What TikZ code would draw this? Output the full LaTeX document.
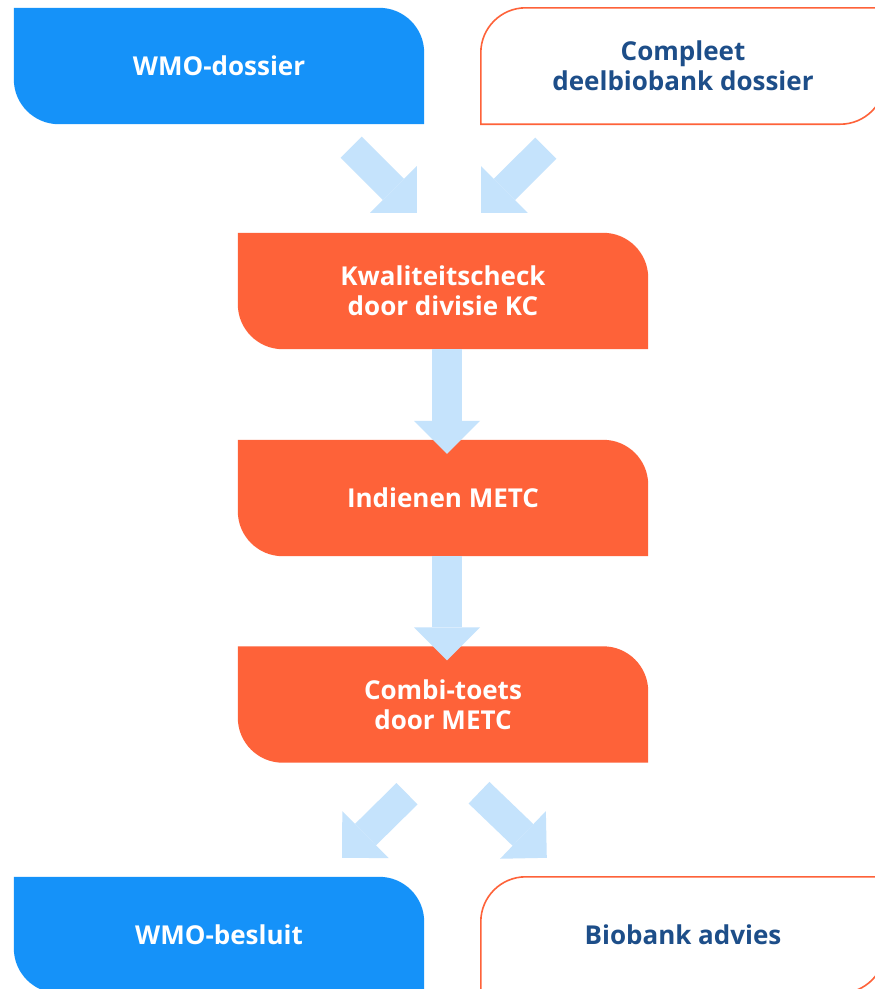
\documentclass[tikz,border=0pt]{standalone}
\usepackage{fontspec}
\setmainfont{Open Sans}
\usetikzlibrary{calc,arrows.meta,backgrounds}
\definecolor{boxblue}{HTML}{1592F9}
\definecolor{boxorange}{HTML}{FE6239}
\definecolor{arrowblue}{HTML}{C5E3FC}
\definecolor{textnavy}{HTML}{1D4E89}
% rounded top-right and bottom-left
\newcommand\leafne[3]{%
  \path[#1] (#2.north west) -- ($(#2.north east)+(-#3,0)$)
    arc[start angle=90,end angle=0,radius=#3pt] -- (#2.south east)
    -- ($(#2.south west)+(#3,0)$) arc[start angle=270,end angle=180,radius=#3pt] -- cycle;}
% rounded top-left and bottom-right
\newcommand\leafnw[3]{%
  \path[#1] ($(#2.north west)+(#3,0)$) -- (#2.north east)
    -- ($(#2.south east)+(0,#3)$) arc[start angle=0,end angle=-90,radius=#3pt]
    -- (#2.south west) -- ($(#2.north west)+(0,-#3)$)
    arc[start angle=180,end angle=90,radius=#3pt] -- cycle;}
\begin{document}
\begin{tikzpicture}[x=1pt,y=1pt,
  box/.style={minimum width=410pt,minimum height=116pt,inner sep=0pt,align=center,
    font=\fontsize{26}{30}\selectfont\bfseries},
  whitetext/.style={box,text=white},
  navytext/.style={box,text=textnavy,minimum width=404pt},
  bluefill/.style={fill=boxblue},
  orangefill/.style={fill=boxorange},
  outlinebox/.style={draw=boxorange,line width=1.6pt,fill=white},
  fatarrow/.style={draw=arrowblue,line width=30pt,
    -{Triangle[length=33pt,width=66pt,line width=0pt]}}]
\useasboundingbox (0,0) rectangle (875,-989);
\clip (0,0) rectangle (875,-989);

\node[whitetext] (wmo) at (219,-66) {WMO-dossier};
\node[navytext] (compleet) at (683,-66) {Compleet\\deelbiobank dossier};
\node[whitetext] (kc) at (443,-291) {Kwaliteitscheck\\door divisie KC};
\node[whitetext] (metc) at (443,-498) {Indienen METC};
\node[whitetext] (combi) at (443,-704.5) {Combi-toets\\door METC};
\node[whitetext] (besluit) at (219,-935) {WMO-besluit};
\node[navytext] (biobank) at (683,-935) {Biobank advies};

\begin{scope}[on background layer]
  \fill[white] (0,0) rectangle (875,-989);
  \leafne{bluefill}{wmo}{45}
  \leafnw{outlinebox}{compleet}{45}
  \leafne{orangefill}{kc}{45}
  \leafne{orangefill}{metc}{45}
  \leafne{orangefill}{combi}{45}
  \leafne{bluefill}{besluit}{45}
  \leafnw{outlinebox}{biobank}{45}
\end{scope}

\coordinate (a1s) at ($(wmo.south east)+(-73,-23)$);
\coordinate (a1e) at ($(kc.north west)+(179,20)$);
\coordinate (a2s) at ($(compleet.south west)+(65,-24)$);
\coordinate (a2e) at ($(kc.north)+(38,20)$);
\coordinate (a3s) at ($(kc.south)+(4,0)$);
\coordinate (a3e) at ($(metc.north)+(4,-14)$);
\coordinate (a4s) at ($(metc.south)+(4,0)$);
\coordinate (a4e) at ($(combi.north)+(4,-14)$);
\coordinate (a5s) at ($(combi.south)+(-36,-31)$);
\coordinate (a5e) at ($(besluit.north)+(123,19)$);
\coordinate (a6s) at ($(combi.south)+(36,-30)$);
\coordinate (a6e) at ($(biobank.north west)+(66,19)$);
\draw[fatarrow] (a1s) -- (a1e);
\draw[fatarrow] (a2s) -- (a2e);
\draw[fatarrow] (a3s) -- (a3e);
\draw[fatarrow] (a4s) -- (a4e);
\draw[fatarrow] (a5s) -- (a5e);
\draw[fatarrow] (a6s) -- (a6e);
\end{tikzpicture}
\end{document}
